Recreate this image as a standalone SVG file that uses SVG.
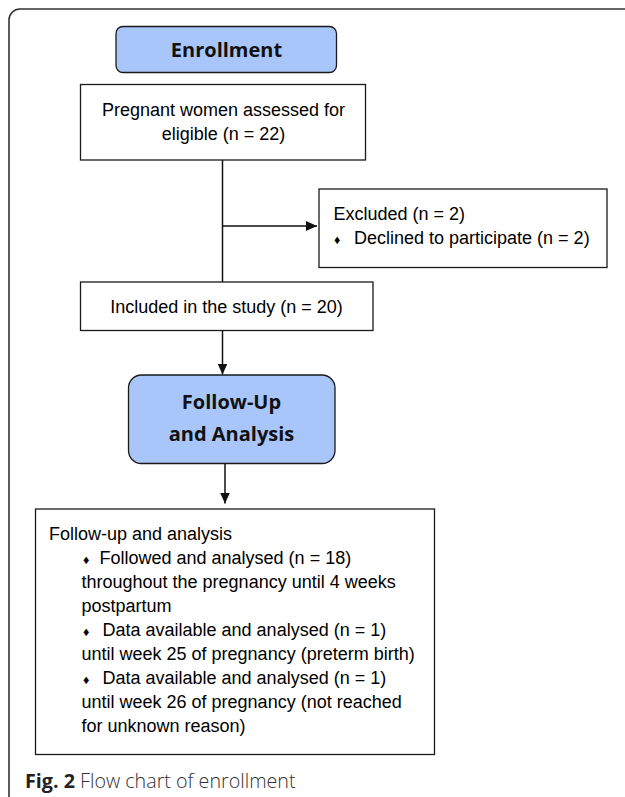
<svg xmlns="http://www.w3.org/2000/svg" width="625" height="797" viewBox="0 0 625 797">
<style>
.box{fill:#fff;stroke:#1a1a1a;stroke-width:1.3}
.blue{fill:#a9c6fa;stroke:#1a1a1a;stroke-width:1.3}
.t{font-family:"Liberation Sans",Arial,sans-serif;font-size:18px;fill:#000}
.h{font-family:"Open Sans","Noto Sans",sans-serif;font-size:20px;font-weight:700;fill:#111;text-anchor:middle}
.b{font-size:12.5px}
.line{stroke:#111;stroke-width:1.5;fill:none}
</style>
<defs>
<marker id="arr" markerWidth="11" markerHeight="10" refX="11" refY="5" orient="auto" markerUnits="userSpaceOnUse">
<path d="M0,0 L11,5 L0,10 Z" fill="#111"/>
</marker>
</defs>
<rect width="625" height="797" fill="#fff"/>
<path d="M9,797 V20 A11,11 0 0 1 20,9 H625" fill="none" stroke="#333" stroke-width="1.6"/>
<g id="connectors">
<path class="line" d="M222.5,160 V282"/>
<path class="line" d="M222.5,226 H317" marker-end="url(#arr)"/>
<path class="line" d="M222.5,331 V374.5" marker-end="url(#arr)"/>
<path class="line" d="M225,463.5 V503.5" marker-end="url(#arr)"/>
</g>
<g id="enrollment">
<rect class="blue" x="116" y="26.5" width="220.5" height="46" rx="7"/>
<text class="h" x="226.5" y="56.5">Enrollment</text>
</g>
<g id="assessed">
<rect class="box" x="80.5" y="84.5" width="285" height="75.5"/>
<text class="t" x="223.5" y="116" text-anchor="middle">Pregnant women assessed for</text>
<text class="t" x="223.5" y="139.5" text-anchor="middle">eligible (n = 22)</text>
</g>
<g id="excluded">
<rect class="box" x="319" y="189" width="288" height="78.5"/>
<text class="t" x="333.5" y="220">Excluded (n = 2)</text>
<text class="t" x="334" y="243.5"><tspan class="b">♦</tspan></text>
<text class="t" x="354" y="243.5">Declined to participate (n = 2)</text>
</g>
<g id="included">
<rect class="box" x="80.5" y="282" width="292.5" height="48.5"/>
<text class="t" x="226.5" y="312.5" text-anchor="middle">Included in the study (n = 20)</text>
</g>
<g id="followup">
<rect class="blue" x="128.5" y="375" width="206.5" height="88.5" rx="13"/>
<text class="h" x="231.5" y="409">Follow-Up</text>
<text class="h" x="231.5" y="441">and Analysis</text>
</g>
<g id="analysis">
<rect class="box" x="35.5" y="509" width="399" height="245.5"/>
<text class="t" x="49" y="539.5">Follow-up and analysis</text>
<text class="t" x="83" y="563.5"><tspan class="b">♦</tspan></text>
<text class="t" x="99.5" y="563.5">Followed and analysed (n = 18)</text>
<text class="t" x="81.5" y="587.5">throughout the pregnancy until 4 weeks</text>
<text class="t" x="81.5" y="611.5">postpartum</text>
<text class="t" x="83" y="635.5"><tspan class="b">♦</tspan></text>
<text class="t" x="102.5" y="635.5">Data available and analysed (n = 1)</text>
<text class="t" x="81.5" y="659.5">until week 25 of pregnancy (preterm birth)</text>
<text class="t" x="83" y="683.5"><tspan class="b">♦</tspan></text>
<text class="t" x="102.5" y="683.5">Data available and analysed (n = 1)</text>
<text class="t" x="81.5" y="707.5">until week 26 of pregnancy (not reached</text>
<text class="t" x="81.5" y="731.5">for unknown reason)</text>
</g>
<g id="caption">
<text x="25" y="788" font-family="'Open Sans','Noto Sans',sans-serif" font-size="19.7px" fill="#333"><tspan font-weight="700" fill="#222">Fig. 2</tspan><tspan font-weight="300"> Flow chart of enrollment</tspan></text>
</g>
</svg>
